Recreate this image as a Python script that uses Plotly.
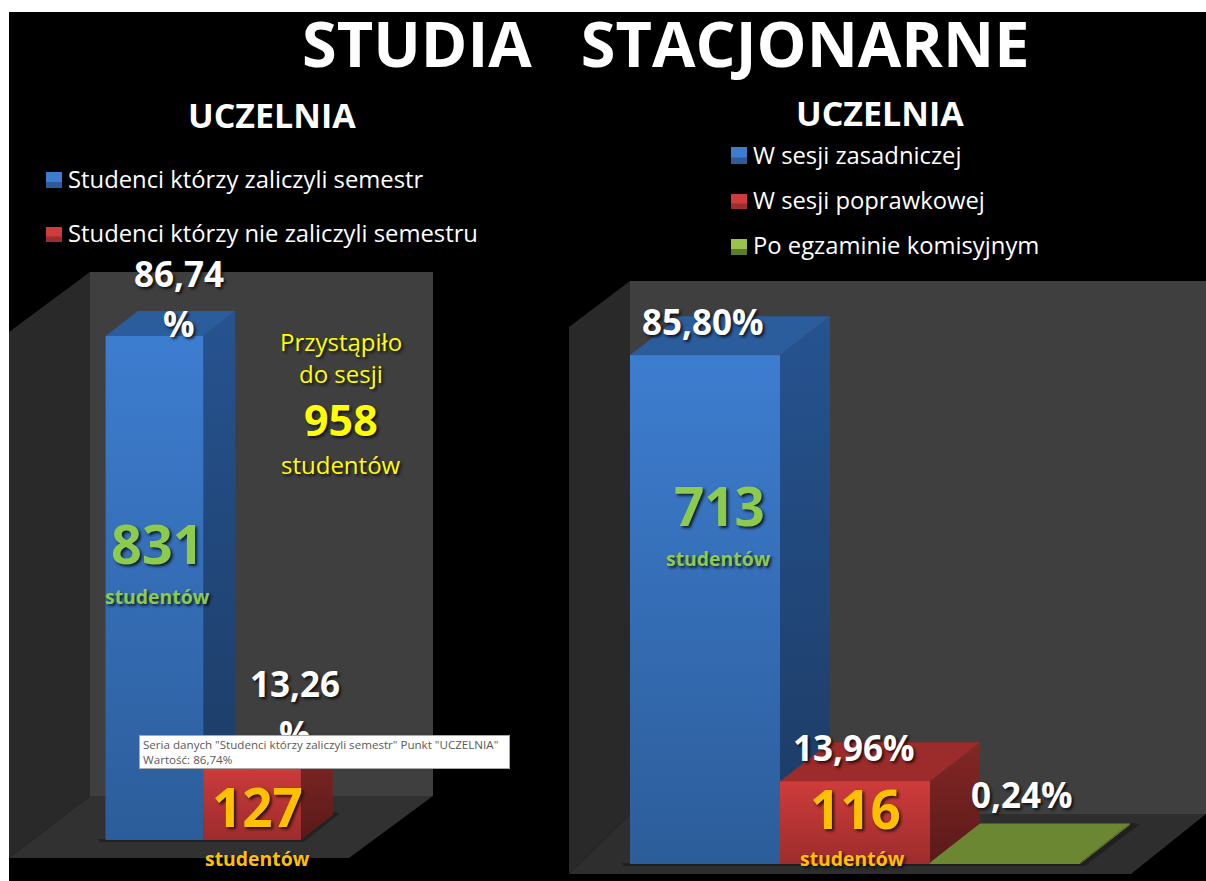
import plotly.graph_objects as go

# ---- data ----
left_names = ["Studenci którzy zaliczyli semestr", "Studenci którzy nie zaliczyli semestru"]
left_pct = [86.74, 13.26]
left_counts = [831, 127]
right_names = ["W sesji zasadniczej", "W sesji poprawkowej", "Po egzaminie komisyjnym"]
right_pct = [85.80, 13.96, 0.24]
right_counts = [713, 116]
total_students = 958

W, H = 1206, 881
FONT = "Open Sans"
BLUE = dict(front=("#3D7DD0", "#2C5D9A"), side=("#265390", "#1C3A62"), top="#2B5C9C", solid="#3570B8")
RED = dict(front=("#CE3C3B", "#9D2C2C"), side=("#842725", "#591A19"), top="#9C2B2B", solid="#B83434")
GREEN = dict(front=("#6B8731", "#6B8731"), side=("#5C742A", "#5C742A"), top="#6B8731", solid="#6B8731")


def px(x):
    return x / W


def py(y):
    return 1 - y / H


def poly(points):
    return "M " + " L ".join(f"{px(a):.5f},{py(b):.5f}" for a, b in points) + " Z"


def path_shape(points, color):
    return dict(type="path", xref="paper", yref="paper", path=poly(points),
                fillcolor=color, line=dict(width=0), layer="below")


def rect(x0, y0, x1, y1, color):
    return dict(type="rect", xref="paper", yref="paper", x0=px(x0), x1=px(x1), y0=py(y0), y1=py(y1),
                fillcolor=color, line=dict(width=0), layer="below")


fig = go.Figure()
shapes = [rect(9, 12, W, H, "#000000")]

# left chart frame
shapes += [
    path_shape([(90, 272), (433, 272), (433, 796), (90, 796)], "#3F3F3F"),
    path_shape([(9, 332), (90, 272), (90, 796), (9, 858)], "#292929"),
    path_shape([(90, 796), (433, 796), (349, 858), (9, 858)], "#313131"),
    path_shape([(98, 839), (301, 839), (334, 812), (340, 813), (304, 842), (100, 842)], "rgba(0,0,0,0.3)"),
]
# right chart frame
shapes += [
    path_shape([(630, 281), (1206, 281), (1206, 814), (630, 814)], "#3F3F3F"),
    path_shape([(569, 327), (630, 281), (630, 814), (569, 874)], "#292929"),
    path_shape([(630, 814), (1206, 814), (1131, 874), (569, 874)], "#2E2E2E"),
    path_shape([(622, 863), (1080, 863), (1131, 823), (1140, 824), (1085, 866), (624, 866)], "rgba(0,0,0,0.3)"),
]


def add_bars(values, styles, xa, ya, dx, dy):
    for i, (v, st) in enumerate(zip(values, styles)):
        fig.add_trace(go.Bar(x=[i], y=[v], width=1, xaxis=xa, yaxis=ya, marker=dict(color=st["solid"], line=dict(width=0)),
                             hoverinfo="skip", showlegend=False))
    for i, (v, st) in enumerate(zip(values, styles)):
        common = dict(xaxis=xa, yaxis=ya, mode="lines", line=dict(width=0), fill="toself",
                      hoverinfo="skip", showlegend=False)
        fig.add_trace(go.Scatter(x=[i + .5, i + .5 + dx, i + .5 + dx, i + .5, i + .5],
                                 y=[0, dy, v + dy, v, 0],
                                 fillgradient=dict(type="vertical", colorscale=[[0, st["side"][1]], [1, st["side"][0]]]),
                                 **common))
        fig.add_trace(go.Scatter(x=[i - .5, i + .5, i + .5 + dx, i - .5 + dx, i - .5],
                                 y=[v, v, v + dy, v + dy, v],
                                 fillcolor=st["top"], **common))
        fig.add_trace(go.Scatter(x=[i - .5, i + .5, i + .5, i - .5, i - .5],
                                 y=[0, 0, v, v, 0],
                                 fillgradient=dict(type="vertical", colorscale=[[0, st["front"][1]], [1, st["front"][0]]]),
                                 **common))


def axis_setup(name_x, name_y, x_dom, y_dom, unit_px, center_px, base_px, scale):
    fig.update_layout({
        name_x: dict(domain=[px(x_dom[0]), px(x_dom[1])], visible=False, fixedrange=True,
                     range=[(x_dom[0] - center_px) / unit_px, (x_dom[1] - center_px) / unit_px]),
        name_y: dict(domain=[py(y_dom[1]), py(y_dom[0])], visible=False, fixedrange=True,
                     range=[-(y_dom[1] - base_px) / scale, (base_px - y_dom[0]) / scale],
                     anchor="x" if name_y == "yaxis" else "x2"),
    })


L_UNIT, L_SCALE = 97.5, 5.81
R_UNIT, R_SCALE = 150.0, 5.93
add_bars(left_pct, [BLUE, RED], "x", "y", 32 / L_UNIT, 25 / L_SCALE)
add_bars(right_pct, [BLUE, RED, GREEN], "x2", "y2", 50 / R_UNIT, 39 / R_SCALE)
axis_setup("xaxis", "yaxis", (9, 433), (272, 858), L_UNIT, 154.5, 840, L_SCALE)
axis_setup("xaxis2", "yaxis2", (569, 1206), (281, 874), R_UNIT, 705, 864, R_SCALE)

# legend swatches
for (x0, x1), rows in (((46, 62), [(172, 188, BLUE), (227, 242, RED)]),
                       ((731, 747), [(147, 164, BLUE), (194, 209, RED), (239, 255, dict(front=("#9BC24D", "#5E7A2C")))])):
    for y0, y1, st in rows:
        m = (y0 + y1) / 2
        shapes += [rect(x0, y0, x1, y1, st["front"][1]),
                   rect(x0, y0, x1, m + 2, st["front"][0])]

annotations = []
SHADOW = "2px 2px 3px rgba(0,0,0,0.75)"


def text(s, x, y, size, color="#FFFFFF", bold=False, anchor="center", shadow=True):
    annotations.append(dict(text=f"<b>{s}</b>" if bold else s, xref="paper", yref="paper", x=px(x), y=py(y),
                            xanchor=anchor, yanchor="middle", showarrow=False,
                            font=dict(family=FONT, size=size, color=color, shadow=SHADOW if shadow else "none")))


def pct(v):
    return f"{v:.2f}".replace(".", ",")


GREEN_TXT, GOLD, YELLOW = "#8CCB4D", "#FFC000", "#FFFF00"
text("STUDIA\u00a0\u00a0\u00a0STACJONARNE", 665, 42, 63, bold=True, shadow=False)
text("UCZELNIA", 272, 115, 34, bold=True, shadow=False)
text("UCZELNIA", 880, 113, 34, bold=True, shadow=False)
for name, y in zip(left_names, (179, 233)):
    text(name, 66, y, 23.8, anchor="left", shadow=False)
for name, y in zip(right_names, (155, 200, 245)):
    text(name, 751, y, 23.8, anchor="left", shadow=False)

text(pct(left_pct[0]), 179, 273, 35, bold=True)
text("%", 179, 323, 35, bold=True)
text(pct(left_pct[1]), 295, 683, 35, bold=True)
text("%", 295, 733, 35, bold=True)
text("Przystąpiło", 341, 341, 24, YELLOW)
text("do sesji", 341, 373, 24, YELLOW)
text(str(total_students), 341, 419, 43, YELLOW, bold=True)
text("studentów", 341, 464, 24, YELLOW)
text(str(left_counts[0]), 157, 543, 54, GREEN_TXT, bold=True)
text("studentów", 157, 596, 19.4, GREEN_TXT, bold=True)
text(str(left_counts[1]), 257, 806, 53, GOLD, bold=True)
text("studentów", 257, 858, 19.4, GOLD, bold=True)

text(pct(right_pct[0]) + "%", 703, 321, 35, bold=True)
text(str(right_counts[0]), 720, 505, 53, GREEN_TXT, bold=True)
text("studentów", 718, 558, 19.4, GREEN_TXT, bold=True)
text(pct(right_pct[1]) + "%", 854, 747, 35, bold=True)
text(str(right_counts[1]), 855, 808, 53, GOLD, bold=True)
text("studentów", 853, 858, 19.4, GOLD, bold=True)
text(pct(right_pct[2]) + "%", 1022, 794, 35, bold=True)

annotations.append(dict(
    text=f'Seria danych "{left_names[0]}" Punkt "UCZELNIA"<br>Wartość: {pct(left_pct[0])}%',
    xref="paper", yref="paper", x=px(139), y=py(735), xanchor="left", yanchor="top", showarrow=False,
    align="left", width=363, height=26, borderpad=3, bgcolor="#FFFFFF", bordercolor="#A8A8A8", borderwidth=1,
    font=dict(family=FONT, size=11.6, color="#5A5A5A")))

fig.update_layout(width=W, height=H, margin=dict(l=0, r=0, t=0, b=0), paper_bgcolor="#FFFFFF",
                  plot_bgcolor="rgba(0,0,0,0)", showlegend=False, shapes=shapes, annotations=annotations,
                  barmode="overlay", hovermode=False)

fig.write_html("out.html", config=dict(displayModeBar=False),
               post_script="document.body.style.margin='0';document.body.style.overflow='hidden';")
